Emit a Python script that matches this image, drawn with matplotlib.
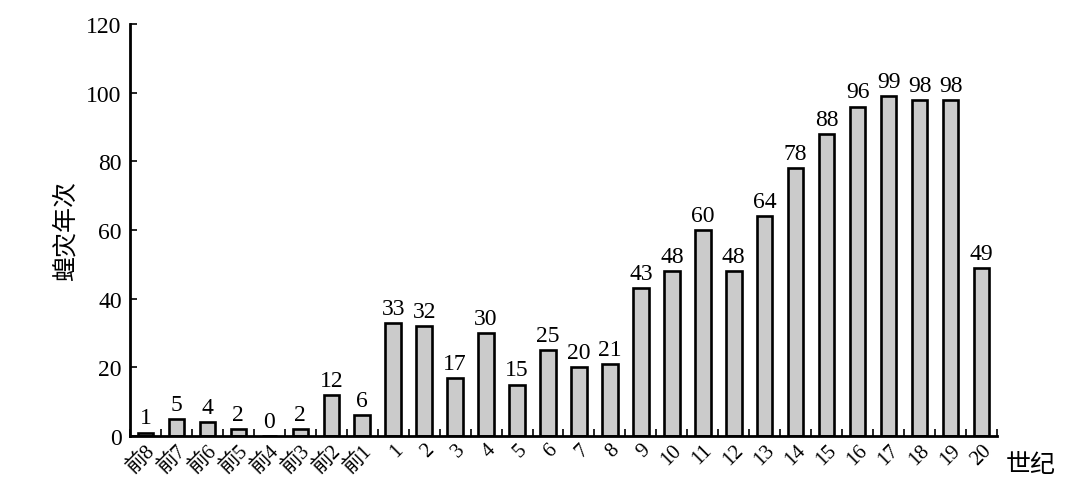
import numpy as np
import matplotlib
matplotlib.use("Agg")
import matplotlib.pyplot as plt

plt.rcParams['font.family'] = ['Liberation Serif', 'Noto Sans CJK SC']

centuries = ['前8', '前7', '前6', '前5', '前4', '前3', '前2', '前1'] + [str(i) for i in range(1, 21)]
counts = [1, 5, 4, 2, 0, 2, 12, 6, 33, 32, 17, 30, 15, 25, 20, 21,
          43, 48, 60, 48, 64, 78, 88, 96, 99, 98, 98, 49]
y_ticks = [0, 20, 40, 60, 80, 100, 120]


def main():
    fig = plt.figure(figsize=(10.77, 4.85), dpi=100)
    ax = fig.add_axes([0.1207, 0.099, 0.805, 0.849])

    x = np.arange(len(centuries))
    ax.bar(x, counts, width=0.5, color='#cbcbcb', edgecolor='black', linewidth=1.9)
    for xi, v in zip(x, counts):
        ax.text(xi, v + 1.2, str(v), ha='center', va='bottom', fontsize=17)

    ax.set_xlim(-0.5, len(centuries) - 0.5)
    ax.set_ylim(0, 120)
    ax.set_yticks(y_ticks)
    ax.tick_params(axis='y', direction='in', length=5, width=1.2, labelsize=17, pad=6)

    ax.set_xticks(x)
    ax.set_xticklabels(centuries, rotation=45, ha='right', rotation_mode='anchor', fontsize=15)
    ax.tick_params(axis='x', which='major', length=0, pad=3)
    ax.set_xticks(np.arange(-0.5, len(centuries)), minor=True)
    ax.tick_params(axis='x', which='minor', direction='in', length=5, width=1.2)

    for side in ['top', 'right']:
        ax.spines[side].set_visible(False)
    for side in ['left', 'bottom']:
        ax.spines[side].set_linewidth(2)

    ax.set_ylabel('蝗灾年次', fontsize=18, labelpad=6)
    fig.text(0.957, 0.041, '世纪', fontsize=18, ha='center', va='center')

    fig.savefig('out.png', dpi=100)


if __name__ == "__main__":
    main()
